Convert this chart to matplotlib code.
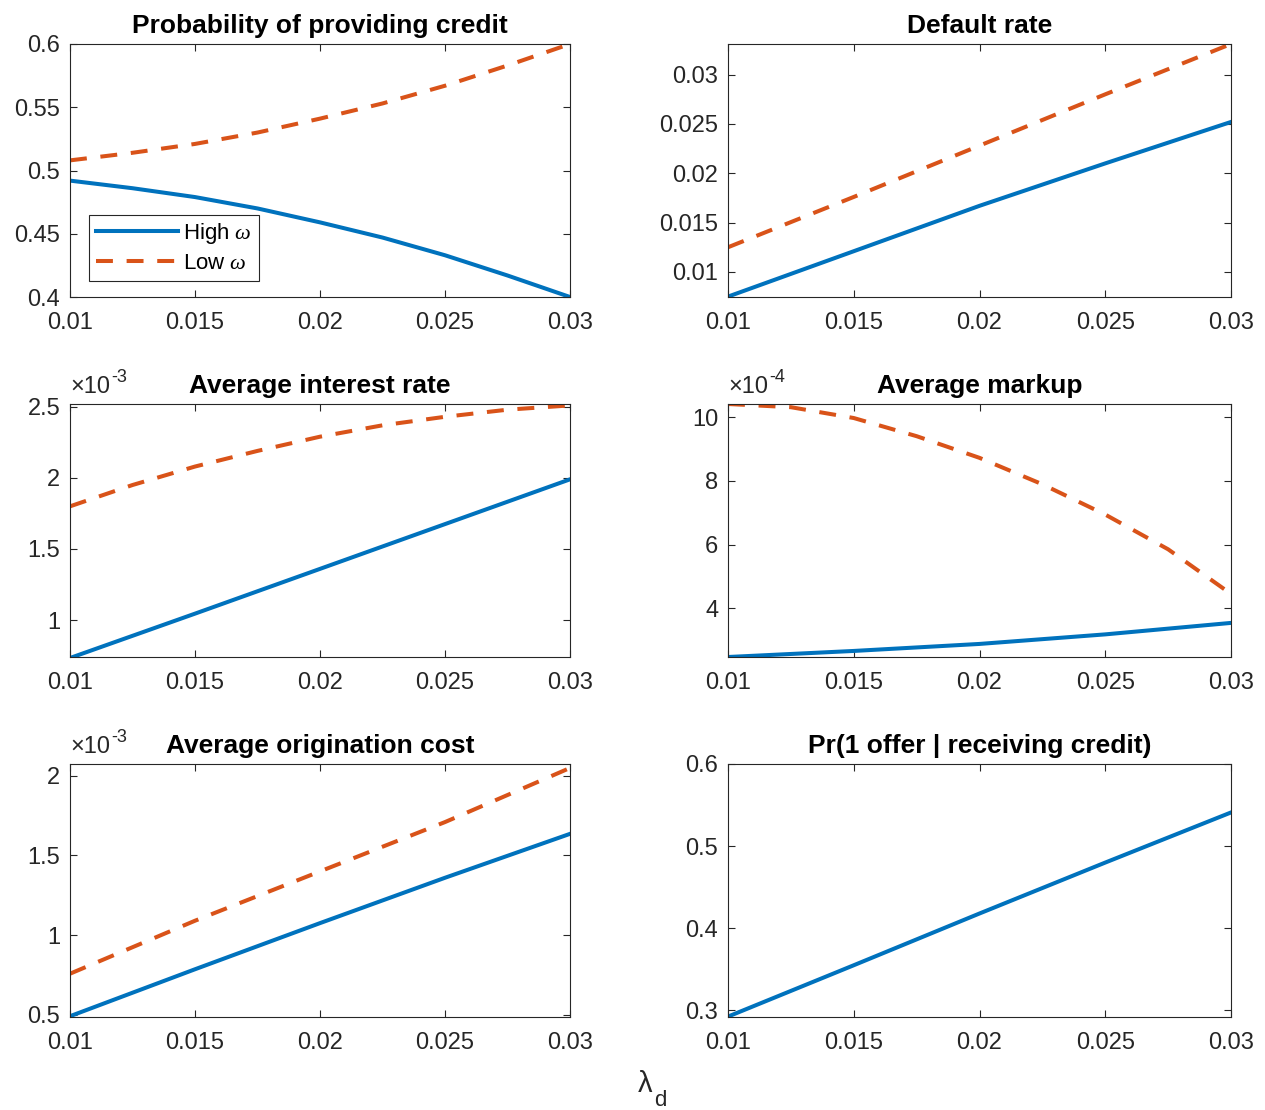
import matplotlib
matplotlib.use('Agg')
import matplotlib.pyplot as plt
from matplotlib.ticker import FuncFormatter, MultipleLocator

# lambda_d grid
lam9 = [0.01, 0.0125, 0.015, 0.0175, 0.02, 0.0225, 0.025, 0.0275, 0.03]
lam5 = [0.01, 0.015, 0.02, 0.025, 0.03]

# probability of providing credit
prob_high = [0.492, 0.486, 0.479, 0.470, 0.459, 0.447, 0.433, 0.417, 0.400]
prob_low = [0.508, 0.514, 0.521, 0.530, 0.541, 0.553, 0.567, 0.583, 0.600]

# default rate
def_high = [0.0075, 0.0121, 0.0167, 0.0210, 0.0252]
def_low = [0.0125, 0.0176, 0.0228, 0.0280, 0.0331]

# average interest rate
rate_high = [0.733e-3, 1.045e-3, 1.36e-3, 1.675e-3, 1.99e-3]
rate_low = [1.80e-3, 1.95e-3, 2.08e-3, 2.19e-3, 2.29e-3, 2.37e-3, 2.43e-3, 2.48e-3, 2.51e-3]

# average markup
mk_high = [2.47e-4, 2.66e-4, 2.88e-4, 3.18e-4, 3.54e-4]
mk_low = [10.41e-4, 10.31e-4, 9.97e-4, 9.40e-4, 8.72e-4, 7.89e-4, 6.94e-4, 5.85e-4, 4.45e-4]

# average origination cost
orig_high = [0.49e-3, 0.785e-3, 1.075e-3, 1.36e-3, 1.636e-3]
orig_low = [0.757e-3, 1.09e-3, 1.40e-3, 1.71e-3, 2.05e-3]

# Pr(1 offer | receiving credit)
one_offer = [0.2925, 0.355, 0.418, 0.480, 0.541]

xticks = [0.01, 0.015, 0.02, 0.025, 0.03]

BLUE = '#0072BD'
ORANGE = '#D95319'
AXC = '#262626'

plt.rcParams['font.family'] = ['Liberation Sans', 'DejaVu Sans']
plt.rcParams['mathtext.fontset'] = 'custom'
plt.rcParams['mathtext.rm'] = 'Liberation Sans'
plt.rcParams['mathtext.it'] = 'Liberation Serif:italic'

fig = plt.figure(figsize=(12.65, 11.1), dpi=100)

lefts = [70 / 1265, 728 / 1265]
widths = [500 / 1265, 503 / 1265]
bottoms = [1 - 297 / 1110, 1 - 657 / 1110, 1 - 1017 / 1110]
h = 253 / 1110
TFS = 19


def make_ax(row, col):
    ax = fig.add_axes([lefts[col], bottoms[row], widths[col], h])
    ax.set_xlim(0.01, 0.03)
    ax.set_xticks(xticks)
    ax.xaxis.set_major_formatter(FuncFormatter(lambda v, p: '%g' % v))
    ax.tick_params(direction='in', top=True, right=True, length=5, width=0.8,
                   colors=AXC, labelsize=17)
    ax.tick_params(axis='x', pad=11)
    ax.tick_params(axis='y', pad=7)
    for s in ax.spines.values():
        s.set_color(AXC)
        s.set_linewidth(0.8)
    return ax


def sci_axis(ax, exp):
    ax.yaxis.set_major_formatter(FuncFormatter(lambda v, p: '%g' % round(v / 10 ** exp, 6)))
    base = ax.text(0.0, 1.025, '×10', transform=ax.transAxes,
                   fontsize=17, color=AXC, ha='left', va='bottom')
    ax.annotate('%d' % exp, xy=(1.0, 0.55), xycoords=base, xytext=(1, 0),
                textcoords='offset points', fontsize=13, color=AXC,
                ha='left', va='bottom')


lw = 2.9
dash = (4.2, 3.4)

# 1
ax = make_ax(0, 0)
ax.plot(lam9, prob_high, color=BLUE, lw=lw, label=r'High $\omega$')
ax.plot(lam9, prob_low, color=ORANGE, lw=lw, dashes=dash, label=r'Low $\omega$')
ax.set_ylim(0.4, 0.6)
ax.yaxis.set_major_locator(MultipleLocator(0.05))
ax.yaxis.set_major_formatter(FuncFormatter(lambda v, p: '%g' % round(v, 4)))
ax.set_title('Probability of providing credit', fontsize=TFS, fontweight='bold', pad=8)
leg = ax.legend(loc='lower left', bbox_to_anchor=(0.038, 0.065), fontsize=16,
                handlelength=3.7, fancybox=False, edgecolor=AXC, framealpha=1,
                borderaxespad=0, borderpad=0.3, labelspacing=0.3, handletextpad=0.25)
leg.get_frame().set_linewidth(0.8)

# 2
ax = make_ax(0, 1)
ax.plot(lam5, def_high, color=BLUE, lw=lw)
ax.plot(lam5, def_low, color=ORANGE, lw=lw, dashes=dash)
ax.set_ylim(0.00746, 0.0331)
ax.set_yticks([0.01, 0.015, 0.02, 0.025, 0.03])
ax.yaxis.set_major_formatter(FuncFormatter(lambda v, p: '%g' % round(v, 4)))
ax.set_title('Default rate', fontsize=TFS, fontweight='bold', pad=8)

# 3
ax = make_ax(1, 0)
ax.plot(lam5, rate_high, color=BLUE, lw=lw)
ax.plot(lam9, rate_low, color=ORANGE, lw=lw, dashes=dash)
ax.set_ylim(0.74e-3, 2.52e-3)
ax.set_yticks([1e-3, 1.5e-3, 2e-3, 2.5e-3])
sci_axis(ax, -3)
ax.set_title('Average interest rate', fontsize=TFS, fontweight='bold', pad=8)

# 4
ax = make_ax(1, 1)
ax.plot(lam5, mk_high, color=BLUE, lw=lw)
ax.plot(lam9, mk_low, color=ORANGE, lw=lw, dashes=dash)
ax.set_ylim(2.47e-4, 10.41e-4)
ax.set_yticks([4e-4, 6e-4, 8e-4, 10e-4])
sci_axis(ax, -4)
ax.set_title('Average markup', fontsize=TFS, fontweight='bold', pad=8)

# 5
ax = make_ax(2, 0)
ax.plot(lam5, orig_high, color=BLUE, lw=lw)
ax.plot(lam5, orig_low, color=ORANGE, lw=lw, dashes=dash)
ax.set_ylim(0.485e-3, 2.075e-3)
ax.set_yticks([0.5e-3, 1e-3, 1.5e-3, 2e-3])
sci_axis(ax, -3)
ax.set_title('Average origination cost', fontsize=TFS, fontweight='bold', pad=8)

# 6
ax = make_ax(2, 1)
ax.plot(lam5, one_offer, color=BLUE, lw=lw)
ax.set_ylim(0.292, 0.6)
ax.set_yticks([0.3, 0.4, 0.5, 0.6])
ax.yaxis.set_major_formatter(FuncFormatter(lambda v, p: '%g' % round(v, 4)))
ax.set_title('Pr(1 offer | receiving credit)', fontsize=TFS, fontweight='bold', pad=8)

fig.text(645 / 1265, 1 - 1084 / 1110, 'λ', fontsize=21, color=AXC,
         ha='center', va='center')
fig.text(660 / 1265, 1 - 1101 / 1110, 'd', fontsize=16, color=AXC,
         ha='center', va='center')

fig.savefig('out.png', dpi=100)
